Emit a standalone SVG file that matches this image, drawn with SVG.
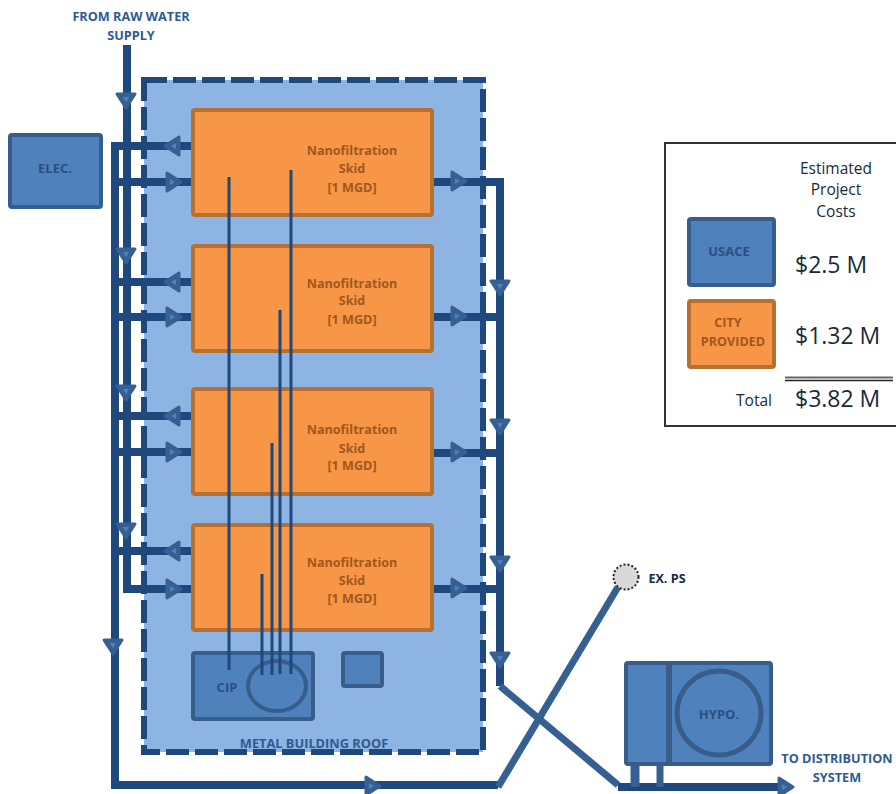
<svg xmlns="http://www.w3.org/2000/svg" width="896" height="794" viewBox="0 0 896 794">
<style>
text{font-family:"Open Sans","Liberation Sans",sans-serif;text-anchor:middle}
.lab{font-weight:700;font-size:12.7px;fill:#2F5A92}
.blue{fill:#4F81BD;stroke:#385D8A;stroke-width:4}
.orange{fill:#F79646;stroke:#B7702F;stroke-width:4}
.sk{font-weight:700;font-size:12.6px;fill:#A3561C}
.nb{font-weight:700;font-size:13px;fill:#2A4F83}
.pipe{fill:none;stroke:#1F497D;stroke-width:8;stroke-linejoin:miter}
.thin{fill:none;stroke:#1F497D;stroke-width:3}
.diag{fill:none;stroke:#366092;stroke-width:7}
.leg{font-size:15.5px;fill:#1a2a3a}
.cost{font-size:23px;fill:#1a2a3a;text-anchor:start}
</style>
<defs>
<g id="ah"><path d="M-7,-9 L7,0 L-7,9 Z" fill="#366092" stroke="#366092" stroke-width="3" stroke-linejoin="round"/><path d="M-4,-3 L1,0 L-4,3 Z" fill="#4F81BD"/></g>
</defs>
<g id="building"><rect x="144" y="80" width="339" height="672" fill="#8EB4E3"/><rect x="144" y="80" width="339" height="672" fill="none" stroke="#1F497D" stroke-width="6" stroke-dasharray="23 6"/></g>
<g id="connectors">
<path class="pipe" d="M127,45 V589 H193"/>
<path class="pipe" d="M193,146 H115 V785 H498"/>
<path class="pipe" d="M115,182 H193M115,282 H193M115,317 H193M115,416 H193M115,452 H193M115,551 H193"/>
<path class="pipe" d="M432,182 H500 V686"/>
<path class="pipe" d="M432,317 H500M432,453 H500M432,589 H500"/>
<path class="pipe" d="M618,787 H785"/>
<path class="diag" d="M498,787 L618,587"/>
<path class="diag" d="M500,686 L618,785"/>
<path class="diag" d="M635,764 V787" style="stroke-width:9"/>
<path class="diag" d="M660,764 V787"/>
<g>
<use href="#ah" transform="translate(126,101) rotate(90)"/>
<use href="#ah" transform="translate(126,256) rotate(90)"/>
<use href="#ah" transform="translate(126,393) rotate(90)"/>
<use href="#ah" transform="translate(126,531) rotate(90)"/>
<use href="#ah" transform="translate(113,647) rotate(90)"/>
<use href="#ah" transform="translate(500,288) rotate(90)"/>
<use href="#ah" transform="translate(500,427) rotate(90)"/>
<use href="#ah" transform="translate(500,564) rotate(90)"/>
<use href="#ah" transform="translate(500,660) rotate(90)"/>
<use href="#ah" transform="translate(172,146) rotate(180)"/>
<use href="#ah" transform="translate(172,282) rotate(180)"/>
<use href="#ah" transform="translate(172,416) rotate(180)"/>
<use href="#ah" transform="translate(172,551) rotate(180)"/>
<use href="#ah" transform="translate(174,182)"/>
<use href="#ah" transform="translate(174,317)"/>
<use href="#ah" transform="translate(174,452)"/>
<use href="#ah" transform="translate(174,589)"/>
<use href="#ah" transform="translate(459,181)"/>
<use href="#ah" transform="translate(459,316)"/>
<use href="#ah" transform="translate(459,452)"/>
<use href="#ah" transform="translate(459,588)"/>
<use href="#ah" transform="translate(373,786)"/>
<use href="#ah" transform="translate(786,787)"/>
</g>
</g>
<g id="skid1"><rect class="orange" x="193" y="110" width="239" height="105" rx="2"/><text class="sk" x="352" y="155">Nanofiltration</text><text class="sk" x="352" y="173">Skid</text><text class="sk" x="352" y="192">[1 MGD]</text></g>
<g id="skid2"><rect class="orange" x="193" y="246" width="239" height="105" rx="2"/><text class="sk" x="352" y="288">Nanofiltration</text><text class="sk" x="352" y="305">Skid</text><text class="sk" x="352" y="324">[1 MGD]</text></g>
<g id="skid3"><rect class="orange" x="193" y="389" width="239" height="105" rx="2"/><text class="sk" x="352" y="434">Nanofiltration</text><text class="sk" x="352" y="453">Skid</text><text class="sk" x="352" y="470">[1 MGD]</text></g>
<g id="skid4"><rect class="orange" x="193" y="525" width="239" height="105" rx="2"/><text class="sk" x="352" y="567">Nanofiltration</text><text class="sk" x="352" y="585">Skid</text><text class="sk" x="352" y="603">[1 MGD]</text></g>
<g id="cip"><rect class="blue" x="193" y="653" width="120" height="66" rx="2"/><ellipse class="blue" cx="277" cy="686" rx="29" ry="25"/><text class="nb" x="227" y="692">CIP</text></g>
<g id="small-tank"><rect class="blue" x="343" y="653" width="39" height="33" rx="2"/></g>
<g id="thin-lines">
<path class="thin" d="M229,177 V670M291,170 V674M280,310 V674M272,443 V675M262,574 V675"/>
</g>
<g id="elec"><rect class="blue" x="10" y="135" width="91" height="72" rx="2"/><text class="nb" x="55" y="173">ELEC.</text></g>
<g id="hypo"><rect class="blue" x="626" y="663" width="145" height="101" rx="2"/><path d="M669,663 V764" stroke="#385D8A" stroke-width="6" fill="none"/><circle cx="719" cy="713" r="42" fill="#4F81BD" stroke="#385D8A" stroke-width="5"/><text class="nb" x="719" y="719">HYPO.</text></g>
<g id="ex-ps"><circle cx="626" cy="577" r="12.5" fill="#D9D9D9" stroke="#222" stroke-width="2" stroke-dasharray="2 2"/><text x="667" y="583" style="font-weight:700;font-size:12.6px;fill:#17294a">EX. PS</text></g>
<g id="source"><text class="lab" x="131" y="21">FROM RAW WATER</text><text class="lab" x="131" y="40">SUPPLY</text></g>
<g id="destination"><text class="lab" x="837" y="763">TO DISTRIBUTION</text><text class="lab" x="837" y="782">SYSTEM</text></g>
<g id="roof"><text x="314" y="748" style="font-weight:700;font-size:12.8px;fill:#2F5A92">METAL BUILDING ROOF</text></g>
<g id="legend">
<path d="M896,143 H665 V426 H896" fill="#fff" stroke="#333" stroke-width="2"/>
<text class="leg" x="836" y="174">Estimated</text><text class="leg" x="836" y="195">Project</text><text class="leg" x="836" y="217">Costs</text>
<rect class="blue" x="689" y="219" width="85" height="66" rx="2"/><text class="nb" x="729" y="256">USACE</text>
<rect class="orange" x="689" y="301" width="85" height="66" rx="2"/><text class="sk" x="728" y="327">CITY</text><text class="sk" x="733" y="346">PROVIDED</text>
<text class="cost" x="795" y="273">$2.5 M</text>
<text class="cost" x="795" y="344">$1.32 M</text>
<text class="cost" x="795" y="407">$3.82 M</text>
<text class="leg" x="754" y="406">Total</text>
<path d="M785,377.5 H893" stroke="#666" stroke-width="2" fill="none"/><path d="M785,380.5 H893" stroke="#222" stroke-width="1.5" fill="none"/>
</g>
</svg>
